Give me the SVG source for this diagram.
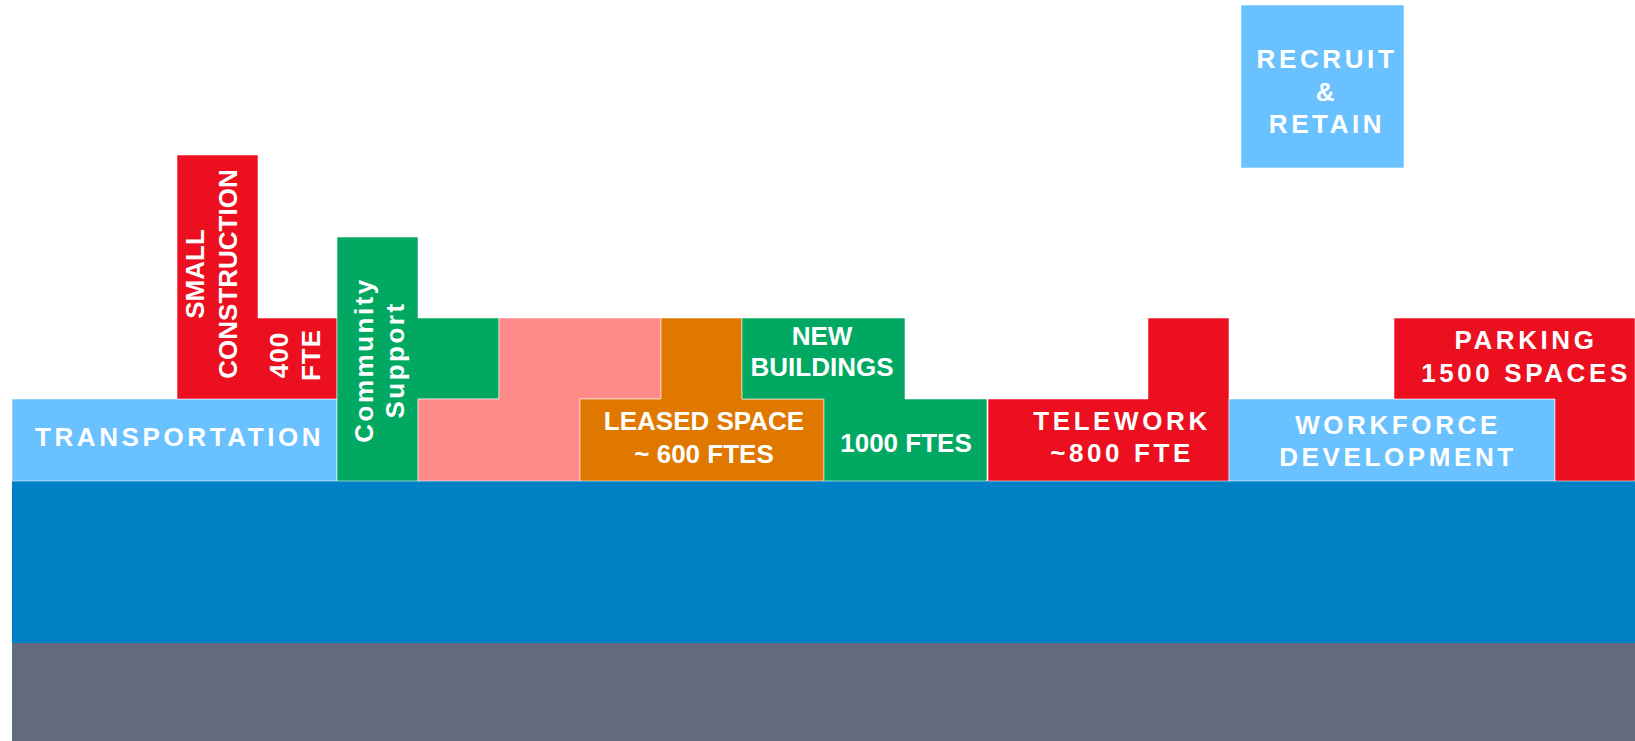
<svg xmlns="http://www.w3.org/2000/svg" width="1635" height="741" viewBox="0 0 1635 741">
<style>
.blk{stroke:#ffffff;stroke-opacity:0.55;stroke-width:1}
.lb{fill:#69C1FF}.rd{fill:#EC0F1F}.gr{fill:#00A862}.pk{fill:#FF8989}.or{fill:#E07800}
.t{font-family:"Liberation Sans",Arial,sans-serif;font-weight:bold;font-size:26px;fill:#ffffff}
.sp{letter-spacing:3.6px}
</style>
<rect x="0" y="0" width="1635" height="741" fill="#ffffff"/>
<g id="foundation">
<rect x="12" y="481" width="1623" height="162" fill="#0080C5"/>
<rect x="12" y="643" width="1623" height="98" fill="#626B7D"/>
</g>
<g id="transportation">
<rect class="blk lb" x="12" y="399" width="325" height="82"/>
<text class="t sp" x="35" y="446">TRANSPORTATION</text>
</g>
<g id="small-construction">
<path class="blk rd" d="M177,155 H258 V318 H337 V399 H177 Z"/>
<text class="t" text-anchor="middle" transform="translate(204,274) rotate(-90)">SMALL</text>
<text class="t" text-anchor="middle" transform="translate(237,274) rotate(-90)">CONSTRUCTION</text>
<text class="t" text-anchor="middle" style="letter-spacing:1px" transform="translate(288,355) rotate(-90)">400</text>
<text class="t" text-anchor="middle" style="letter-spacing:1px" transform="translate(320,355) rotate(-90)">FTE</text>
</g>
<g id="community-support">
<path class="blk gr" d="M337,237 H418 V318 H499 V399 H418 V481 H337 Z"/>
<text class="t" text-anchor="middle" style="letter-spacing:2.5px" transform="translate(373,360) rotate(-90)">Community</text>
<text class="t" text-anchor="middle" style="letter-spacing:2.5px" transform="translate(404,360) rotate(-90)">Support</text>
</g>
<g id="pink-block">
<path class="blk pk" d="M499,318 H661 V399 H580 V481 H418 V399 H499 Z"/>
</g>
<g id="leased-space">
<path class="blk or" d="M661,318 H742 V399 H824 V481 H580 V399 H661 Z"/>
<text class="t" text-anchor="middle" x="704" y="430">LEASED SPACE</text>
<text class="t" text-anchor="middle" x="704" y="463">~ 600 FTES</text>
</g>
<g id="new-buildings">
<path class="blk gr" d="M742,318 H905 V399 H987 V481 H824 V399 H742 Z"/>
<text class="t" text-anchor="middle" x="822" y="345">NEW</text>
<text class="t" text-anchor="middle" x="822" y="376">BUILDINGS</text>
<text class="t" text-anchor="middle" x="906" y="452">1000 FTES</text>
</g>
<g id="telework">
<path class="blk rd" d="M988,399 H1148 V318 H1229 V481 H988 Z"/>
<text class="t sp" text-anchor="middle" x="1122" y="430">TELEWORK</text>
<text class="t sp" text-anchor="middle" x="1122" y="462">~800 FTE</text>
</g>
<g id="workforce-development">
<rect class="blk lb" x="1229" y="399" width="326" height="82"/>
<text class="t sp" text-anchor="middle" x="1398" y="434">WORKFORCE</text>
<text class="t sp" text-anchor="middle" x="1398" y="466">DEVELOPMENT</text>
</g>
<g id="parking">
<path class="blk rd" d="M1394,318 H1635 V481 H1555 V399 H1394 Z"/>
<text class="t sp" text-anchor="middle" x="1526" y="349">PARKING</text>
<text class="t sp" text-anchor="middle" x="1526" y="382">1500 SPACES</text>
</g>
<g id="recruit-retain">
<rect class="blk lb" x="1241" y="5" width="163" height="163"/>
<text class="t sp" text-anchor="middle" x="1327" y="68">RECRUIT</text>
<text class="t sp" text-anchor="middle" x="1327" y="101">&amp;</text>
<text class="t sp" text-anchor="middle" x="1327" y="133">RETAIN</text>
</g>
<g id="connectors"/>
</svg>
